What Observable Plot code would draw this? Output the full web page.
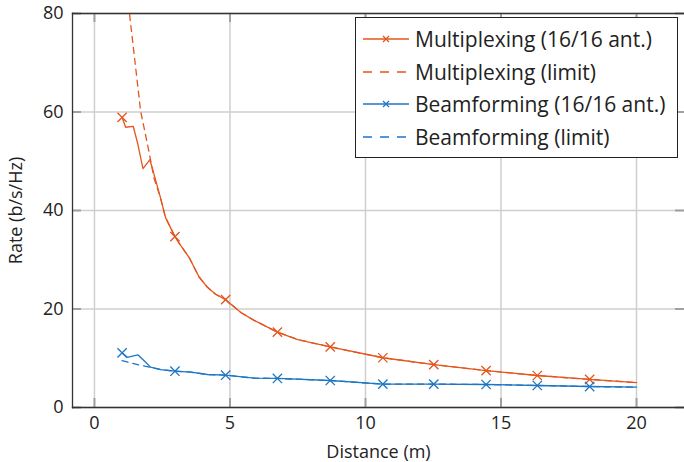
<!DOCTYPE html>
<html>
<head>
<meta charset="utf-8">
<script src="https://cdn.jsdelivr.net/npm/d3@7"></script>
<script src="https://cdn.jsdelivr.net/npm/@observablehq/plot@0.6"></script>
<style>
  html, body { margin: 0; padding: 0; background: #fff; }
  #wrap { position: relative; width: 684px; height: 462px; font-family: "Open Sans", sans-serif; }
  #legend { position: absolute; left: 355px; top: 17px; width: 321px; height: 139px; border: 1.3px solid #222; background: #fff; }
  .row { position: absolute; left: 0; height: 32px; display: flex; align-items: center; font-size: 21px; color: #222; white-space: nowrap; }
  .row svg { margin-left: 7px; margin-right: 6px; }
</style>
</head>
<body>
<div id="wrap"></div>
<script>
const orange = "#e4561d";
const blue = "#1d76c4";

const xTicks = [0, 5, 10, 15, 20];
const yTicks = [0, 20, 40, 60, 80];

// Multiplexing (16/16 ant.)
const muxDist = [1.02, 1.15, 1.43, 1.60, 1.79, 2.04, 2.11, 2.44, 2.62, 2.97, 3.18, 3.49, 3.86, 4.17, 4.47, 4.84, 5.40, 5.89, 6.75, 7.5, 8.70, 10.64, 12.52, 14.45, 16.34, 18.27, 20.0];
const muxRate = [58.9, 56.9, 57.1, 53.5, 48.5, 50.3, 49.1, 42.5, 38.6, 34.7, 32.9, 30.5, 26.5, 24.4, 23.0, 21.9, 19.3, 17.7, 15.3, 13.8, 12.3, 10.1, 8.7, 7.5, 6.5, 5.7, 5.05];

// Multiplexing (limit)
const muxLimDist = [1.25, 1.5, 1.7, 2.01, 2.2, 2.44, 2.62, 2.97, 3.18, 3.49, 3.86, 4.17, 4.47, 4.84, 5.40, 5.89, 6.75, 7.5, 8.70, 10.64, 12.52, 14.45, 16.34, 18.27, 20.0];
const muxLimRate = [82, 70, 60.3, 52, 46.5, 42.5, 38.6, 34.7, 32.9, 30.5, 26.5, 24.4, 23.0, 21.9, 19.3, 17.7, 15.3, 13.8, 12.3, 10.1, 8.7, 7.5, 6.5, 5.7, 5.05];

// Beamforming (16/16 ant.)
const bfDist = [1.02, 1.21, 1.60, 1.89, 2.07, 2.44, 2.97, 3.55, 4.17, 4.84, 5.89, 6.75, 8.70, 10.64, 12.52, 14.45, 16.34, 18.27, 20.0];
const bfRate = [11.1, 10.2, 10.7, 9.2, 8.2, 7.7, 7.37, 7.17, 6.7, 6.56, 5.96, 5.9, 5.48, 4.74, 4.74, 4.67, 4.47, 4.26, 4.12];

// Beamforming (limit)
const bfLimDist = [1.02, 1.3, 1.64, 2.2, 2.44, 2.97, 3.55, 4.17, 4.84, 5.89, 6.75, 8.70, 10.64, 12.52, 14.45, 16.34, 18.27, 20.0];
const bfLimRate = [9.5, 9.1, 8.66, 8.0, 7.7, 7.37, 7.17, 6.7, 6.56, 5.96, 5.9, 5.48, 4.74, 4.74, 4.67, 4.47, 4.26, 4.12];

// distances carrying a marker
const markerDist = [1.02, 2.97, 4.84, 6.75, 8.70, 10.64, 12.52, 14.45, 16.34, 18.27];

const zip = (xs, ys) => xs.map((x, i) => ({x, y: ys[i]}));
const mux = zip(muxDist, muxRate);
const muxLim = zip(muxLimDist, muxLimRate);
const bf = zip(bfDist, bfRate);
const bfLim = zip(bfLimDist, bfLimRate);
const muxMarks = mux.filter(d => markerDist.includes(d.x));
const bfMarks = bf.filter(d => markerDist.includes(d.x));

const W = 684, H = 462, mL = 72, mR = 0, mT = 13, mB = 55;
const frameW = W - mL - mR, frameH = H - mT - mB;
const tickLen = 9;

const chart = Plot.plot({
  width: W, height: H,
  marginLeft: mL, marginRight: mR, marginTop: mT, marginBottom: mB,
  style: {fontFamily: "'Open Sans', sans-serif", fontSize: "18px", color: "#222", background: "#fff"},
  x: {domain: [-0.81, 21.77]},
  y: {domain: [0, 80]},
  marks: [
    Plot.gridX(xTicks, {stroke: "#cfcfcf", strokeOpacity: 1, strokeWidth: 1.5}),
    Plot.gridY(yTicks, {stroke: "#cfcfcf", strokeOpacity: 1, strokeWidth: 1.5}),
    Plot.tickX(xTicks, {x: d => d, stroke: "#a0a0a0", strokeWidth: 2, insetTop: frameH - tickLen}),
    Plot.tickX(xTicks, {x: d => d, stroke: "#a0a0a0", strokeWidth: 2, insetBottom: frameH - tickLen}),
    Plot.tickY(yTicks, {y: d => d, stroke: "#a0a0a0", strokeWidth: 2, insetRight: frameW - tickLen}),
    Plot.tickY(yTicks, {y: d => d, stroke: "#a0a0a0", strokeWidth: 2, insetLeft: frameW - tickLen}),
    Plot.line(muxLim, {x: "x", y: "y", stroke: orange, strokeWidth: 1.3, strokeDasharray: "6,5", clip: true}),
    Plot.line(bfLim, {x: "x", y: "y", stroke: blue, strokeWidth: 1.3, strokeDasharray: "6,5", clip: true}),
    Plot.line(mux, {x: "x", y: "y", stroke: orange, strokeWidth: 1.3}),
    Plot.line(bf, {x: "x", y: "y", stroke: blue, strokeWidth: 1.3}),
    Plot.dot(muxMarks, {x: "x", y: "y", symbol: "times", r: 4.3, stroke: orange, strokeWidth: 1.3}),
    Plot.dot(bfMarks, {x: "x", y: "y", symbol: "times", r: 4.3, stroke: blue, strokeWidth: 1.3}),
    Plot.frame({anchor: "left", stroke: "#333", strokeWidth: 1.3}),
    Plot.frame({anchor: "top", stroke: "#333", strokeWidth: 1.3}),
    Plot.frame({anchor: "bottom", stroke: "#333", strokeWidth: 1.3}),
    Plot.axisX({ticks: xTicks, tickSize: 0, tickPadding: 9, label: "Distance (m)", labelAnchor: "center", labelArrow: "none", labelOffset: 50}),
    Plot.axisY({ticks: yTicks, tickSize: 0, tickPadding: 9, label: "Rate (b/s/Hz)", labelAnchor: "center", labelArrow: "none", labelOffset: 63})
  ]
});

const wrap = document.getElementById("wrap");
wrap.appendChild(chart);

const legendItems = [
  {label: "Multiplexing (16/16 ant.)", color: orange, dash: null, marker: true},
  {label: "Multiplexing (limit)", color: orange, dash: "9,8", marker: false},
  {label: "Beamforming (16/16 ant.)", color: blue, dash: null, marker: true},
  {label: "Beamforming (limit)", color: blue, dash: "9,8", marker: false}
];
const legend = document.createElement("div");
legend.id = "legend";
legendItems.forEach((it, i) => {
  const row = document.createElement("div");
  row.className = "row";
  row.style.top = (5 + i * 32.7) + "px";
  const svg = `<svg width="46" height="12" viewBox="0 0 46 12"><line x1="0" y1="6" x2="46" y2="6" stroke="${it.color}" stroke-width="1.3"${it.dash ? ` stroke-dasharray="${it.dash}"` : ""}/>${it.marker ? `<path d="M20,3L26,9M26,3L20,9" stroke="${it.color}" stroke-width="1.3"/>` : ""}</svg>`;
  row.innerHTML = svg + `<span>${it.label}</span>`;
  legend.appendChild(row);
});
wrap.appendChild(legend);
</script>
</body>
</html>
